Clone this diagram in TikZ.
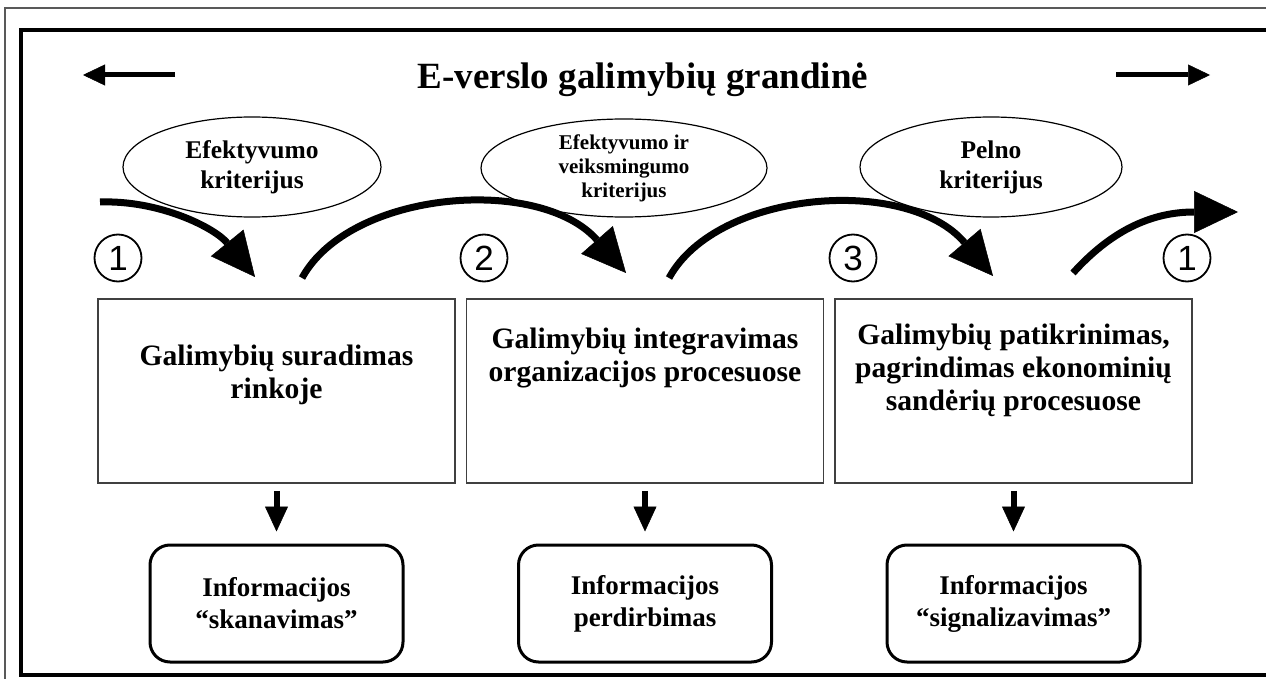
\documentclass[tikz,border=0pt]{standalone}
\usepackage{fontspec}
\setmainfont{Liberation Serif}
\newfontfamily\numfont{Liberation Sans}
\usetikzlibrary{arrows.meta,shapes.geometric}

\tikzset{
  frameline/.style={line width=4pt},
  stepbox/.style={draw=black!75, line width=1.6pt, minimum width=357pt,
    minimum height=184pt, inner sep=0pt},
  steptext/.style={align=center, font=\fontsize{29.6}{33}\selectfont\bfseries},
  infobox/.style={draw, line width=3pt, rounded corners=20pt, minimum width=253pt,
    minimum height=117pt, inner sep=0pt, align=center,
    font=\fontsize{27}{32}\selectfont\bfseries},
  crit/.style={draw, ellipse, line width=1.2pt, inner sep=0pt},
  crittext/.style={align=center, font=\fontsize{25.5}{30}\selectfont\bfseries},
  numc/.style={draw, circle, line width=1.8pt, minimum size=47pt, inner sep=0pt,
    font=\numfont\fontsize{35}{35}\selectfont},
  flowarrow/.style={line width=7pt, -{Triangle[length=44pt,width=42pt,line width=0.5pt]}},
  downarrow/.style={line width=6pt, shorten <=7pt, shorten >=12pt,
    -{Triangle[length=25pt,width=23pt,line width=0.5pt]}},
  dirarrow/.style={line width=5pt, -{Triangle[length=22pt,width=21pt,line width=0.5pt]}},
}

\begin{document}
\begin{tikzpicture}[x=1pt,y=-1pt]
  \useasboundingbox (0,0) rectangle (1266,679);
  \fill[white] (0,0) rectangle (1266,679);

  % frames
  \draw[black!65, line width=1.2pt] (5,679) -- (5,8) -- (1266,8);
  \draw[frameline] (1275,30) -- (21,30) -- (21,675) -- (1275,675);

  % title with direction arrows
  \node[font=\fontsize{37}{40}\selectfont\bfseries] (title) at (643,80) {E-verslo galimybių grandinė};
  \coordinate (la0) at (175,75);
  \coordinate (la1) at (83,75);
  \coordinate (ra0) at (1116,75);
  \coordinate (ra1) at (1210,75);
  \draw[dirarrow] (la0) -- (la1);
  \draw[dirarrow] (ra0) -- (ra1);

  % criteria
  \node[crit, minimum width=258pt, minimum height=100pt] (e1) at (252,167) {};
  \node[crit, minimum width=286pt, minimum height=98pt] (e2) at (624,168) {};
  \node[crit, minimum width=262pt, minimum height=100pt] (e3) at (991,167) {};
  \node[crittext] (c1) at (e1) {Efektyvumo\\kriterijus};
  \node[align=center, font=\fontsize{21}{24}\selectfont\bfseries] (c2) at (e2)
    {Efektyvumo ir\\veiksmingumo\\kriterijus};
  \node[crittext] (c3) at (e3) {Pelno\\kriterijus};

  % stage numbers
  \node[numc] (n1) at (118,258) {1};
  \node[numc] (n2) at (484,258) {2};
  \node[numc] (n3) at (853,258) {3};
  \node[numc] (n4) at (1187,258) {1};

  % curved flow arrows
  \coordinate (f1a) at (100,202);
  \coordinate (f1b) at (255,277);
  \coordinate (f2a) at (302,278);
  \coordinate (f2b) at (626,273);
  \coordinate (f3a) at (669,278);
  \coordinate (f3b) at (993,276);
  \coordinate (f4a) at (1073,273);
  \coordinate (f4b) at (1238,212);
  \draw[flowarrow] (f1a) .. controls (160,200) and (215,228) .. (f1b);
  \draw[flowarrow] (f2a) .. controls (350,190) and (540,175) .. (f2b);
  \draw[flowarrow] (f3a) .. controls (717,190) and (907,175) .. (f3b);
  \draw[flowarrow] (f4a) .. controls (1110,232) and (1150,212) .. (f4b);

  % stages
  \node[stepbox] (b1) at (276.5,391) {};
  \node[stepbox] (b2) at (645,391) {};
  \node[stepbox] (b3) at (1013.5,391) {};
  \node[steptext] (s1) at (276.5,375) {Galimybių suradimas\\rinkoje};
  \node[steptext] (s2) at (645,358) {Galimybių integravimas\\organizacijos procesuose};
  \node[steptext] (s3) at (1013.5,370) {Galimybių patikrinimas,\\pagrindimas ekonominių\\sandėrių procesuose};

  % information handling
  \node[infobox] (r1) at (276.5,603.5) {Informacijos\\“skanavimas”};
  \node[infobox] (r2) at (645,603.5) {Informacijos\\perdirbimas};
  \node[infobox] (r3) at (1013.5,603.5) {Informacijos\\“signalizavimas”};

  \draw[downarrow] (b1.south) -- (r1.north);
  \draw[downarrow] (b2.south) -- (r2.north);
  \draw[downarrow] (b3.south) -- (r3.north);
\end{tikzpicture}
\end{document}
